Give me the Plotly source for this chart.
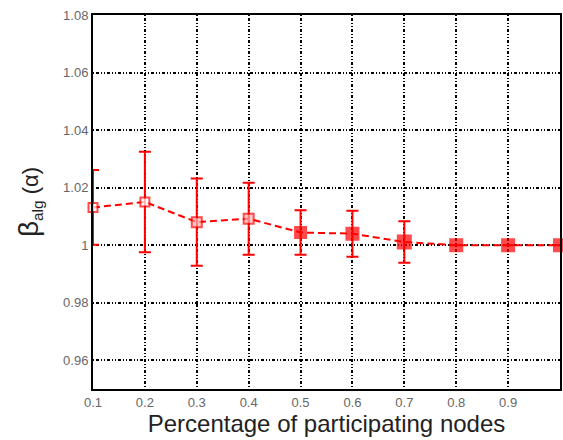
import plotly.graph_objects as go

# ---- data ----
participation = [0.1, 0.2, 0.3, 0.4, 0.5, 0.6, 0.7, 0.8, 0.9, 1.0]
beta_mean = [1.0131, 1.0150, 1.0080, 1.0092, 1.0044, 1.0040, 1.0011, 1.0000, 1.0000, 1.0000]
beta_err = [0.0130, 0.0175, 0.0152, 0.0125, 0.0077, 0.0080, 0.0072, 0.0, 0.0, 0.0]
x_ticks = [0.1, 0.2, 0.3, 0.4, 0.5, 0.6, 0.7, 0.8, 0.9]
x_tick_labels = ["0.1", "0.2", "0.3", "0.4", "0.5", "0.6", "0.7", "0.8", "0.9"]
y_ticks = [0.96, 0.98, 1.00, 1.02, 1.04, 1.06, 1.08]
y_tick_labels = ["0.96", "0.98", "1", "1.02", "1.04", "1.06", "1.08"]

# ---- styles ----
RED = "#ff0000"
marker_sizes = [9, 9, 10, 10, 11, 12, 13, 12, 12, 12]
marker_fill = ["white", "white", "#ffb3b3", "#ffb3b3", RED, RED, RED, RED, RED, RED]
GRID_DASH = "1px,2px,3px,2px,1px,2px"

fig = go.Figure()
fig.add_trace(go.Scatter(
    x=participation,
    y=beta_mean,
    mode="lines+markers",
    line=dict(color=RED, width=2, dash="7px,4px"),
    marker=dict(symbol="square", size=marker_sizes, color=marker_fill,
                line=dict(color=RED, width=2)),
    error_y=dict(type="data", array=beta_err, visible=True,
                 color=RED, thickness=2, width=6),
    cliponaxis=False,
    showlegend=False,
))

fig.update_layout(
    width=563, height=440,
    margin=dict(l=93, r=1, t=15, b=51),
    paper_bgcolor="white",
    plot_bgcolor="white",
    font=dict(family="Liberation Sans, Arial, sans-serif", color="#222222"),
    xaxis=dict(
        range=[0.1, 1.0],
        tickvals=x_ticks,
        ticktext=x_tick_labels,
        tickfont=dict(size=13, color="#666666"),
        showgrid=True, gridcolor="black", gridwidth=1.5, griddash=GRID_DASH,
        showline=True, linecolor="black", linewidth=2, mirror=True,
        zeroline=False, ticks="",
        title=dict(text="Percentage of participating nodes",
                   font=dict(size=24, color="#222222"), standoff=0),
    ),
    yaxis=dict(
        range=[0.95, 1.08],
        tickvals=y_ticks,
        ticktext=y_tick_labels,
        tickfont=dict(size=13, color="#666666"),
        showgrid=True, gridcolor="black", gridwidth=1.5, griddash=GRID_DASH,
        showline=True, linecolor="black", linewidth=2, mirror=True,
        zeroline=False, ticks="",
        title=dict(text="<span style='font-size:28px'>β</span><sub>alg</sub> (α)",
                   font=dict(size=22, color="#222222"), standoff=18),
    ),
)

fig.write_html(
    "out.html",
    config={"displayModeBar": False},
    post_script="document.body.style.margin='0';document.body.style.overflow='hidden';",
)
